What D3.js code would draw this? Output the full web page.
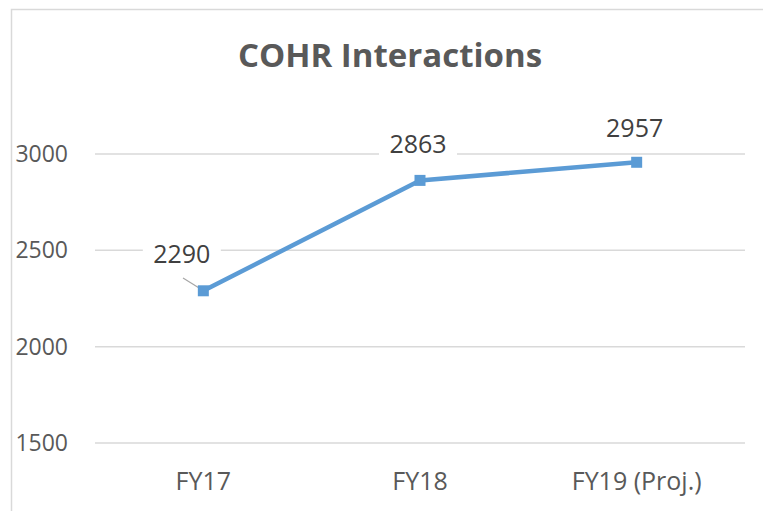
<!DOCTYPE html>
<html>
<head>
<meta charset="utf-8">
<script src="https://cdn.jsdelivr.net/npm/d3@7/dist/d3.min.js"></script>
<style>
    body { margin: 0; background: #fff; }
    text { font-family: "Open Sans", "Liberation Sans", sans-serif; }
</style>
</head>
<body>
<script>
//chart data
var categories = ["FY17", "FY18", "FY19 (Proj.)"];
var interactions = [2290, 2863, 2957];
var yTicks = [1500, 2000, 2500, 3000];
var chartTitle = "COHR Interactions";

(function (){

    //frame dimensions
    var width = 763,
        height = 511;

    //plot area
    var plot = {left: 95, right: 745, top: 154, bottom: 443};

    var svg = d3.select("body")
        .append("svg")
        .attr("width", width)
        .attr("height", height);

    //chart border (only top and left are inside the crop)
    svg.append("path")
        .attr("d", "M11.5," + height + "V9.5H" + width)
        .attr("fill", "none")
        .attr("stroke", "#d9d9d9")
        .attr("stroke-width", 1.5);

    //scales
    var xScale = d3.scaleBand()
        .domain(categories)
        .range([plot.left, plot.right]);

    var yScale = d3.scaleLinear()
        .domain([1500, 3000])
        .range([plot.bottom, plot.top]);

    //title
    svg.append("text")
        .attr("x", 390)
        .attr("y", 67)
        .attr("text-anchor", "middle")
        .style("font-size", "33px")
        .style("font-weight", "bold")
        .style("fill", "#595959")
        .text(chartTitle);

    //gridlines
    svg.selectAll(".grid")
        .data(yTicks)
        .enter()
        .append("line")
        .attr("class", "grid")
        .attr("x1", plot.left)
        .attr("x2", plot.right)
        .attr("y1", function(d){ return yScale(d); })
        .attr("y2", function(d){ return yScale(d); })
        .attr("stroke", "#d9d9d9")
        .attr("stroke-width", 1.5);

    //y axis labels
    var yAxis = d3.axisLeft(yScale)
        .tickValues(yTicks)
        .tickSize(0)
        .tickPadding(0)
        .tickFormat(d3.format("d"));

    var yG = svg.append("g")
        .attr("transform", "translate(68,0)")
        .call(yAxis);
    yG.select(".domain").remove();
    yG.selectAll("text")
        .style("font-size", "23px")
        .style("fill", "#595959")
        .style("font-family", "\"Open Sans\", sans-serif");

    //x axis labels
    var xAxis = d3.axisBottom(xScale)
        .tickSize(0)
        .tickPadding(0);

    var xG = svg.append("g")
        .attr("transform", "translate(0,472)")
        .call(xAxis);
    xG.select(".domain").remove();
    xG.selectAll("text")
        .style("font-size", "25px")
        .style("fill", "#595959")
        .style("font-family", "\"Open Sans\", sans-serif");

    var cx = function(d, i){ return xScale(categories[i]) + xScale.bandwidth() / 2; };

    //leader line for first label
    svg.append("line")
        .attr("x1", 183)
        .attr("y1", 278)
        .attr("x2", cx(null, 0) - 3)
        .attr("y2", yScale(interactions[0]) - 2)
        .attr("stroke", "#a6a6a6")
        .attr("stroke-width", 1.2);

    //series line
    var line = d3.line()
        .x(cx)
        .y(function(d){ return yScale(d); });

    svg.append("path")
        .datum(interactions)
        .attr("d", line)
        .attr("fill", "none")
        .attr("stroke", "#5b9bd5")
        .attr("stroke-width", 4.5)
        .attr("stroke-linejoin", "round");

    //markers
    svg.selectAll(".marker")
        .data(interactions)
        .enter()
        .append("rect")
        .attr("class", "marker")
        .attr("x", function(d, i){ return cx(d, i) - 5.5; })
        .attr("y", function(d){ return yScale(d) - 5.5; })
        .attr("width", 11)
        .attr("height", 11)
        .attr("fill", "#5b9bd5");

    //data labels (offsets from each point)
    var labelOffsets = [[-21.5, -37], [-2, -36.5], [-2, -34.5]];

    var labels = svg.selectAll(".label")
        .data(interactions)
        .enter()
        .append("g")
        .attr("class", "label")
        .attr("transform", function(d, i){
            return "translate(" + (cx(d, i) + labelOffsets[i][0]) + "," + (yScale(d) + labelOffsets[i][1]) + ")";
        });

    labels.append("rect")
        .attr("x", -39)
        .attr("y", -15)
        .attr("width", 78)
        .attr("height", 30)
        .attr("fill", "#fff");

    labels.append("text")
        .attr("text-anchor", "middle")
        .attr("dy", "0.35em")
        .style("font-size", "25px")
        .style("fill", "#404040")
        .text(function(d){ return d; });

})();
</script>
</body>
</html>
